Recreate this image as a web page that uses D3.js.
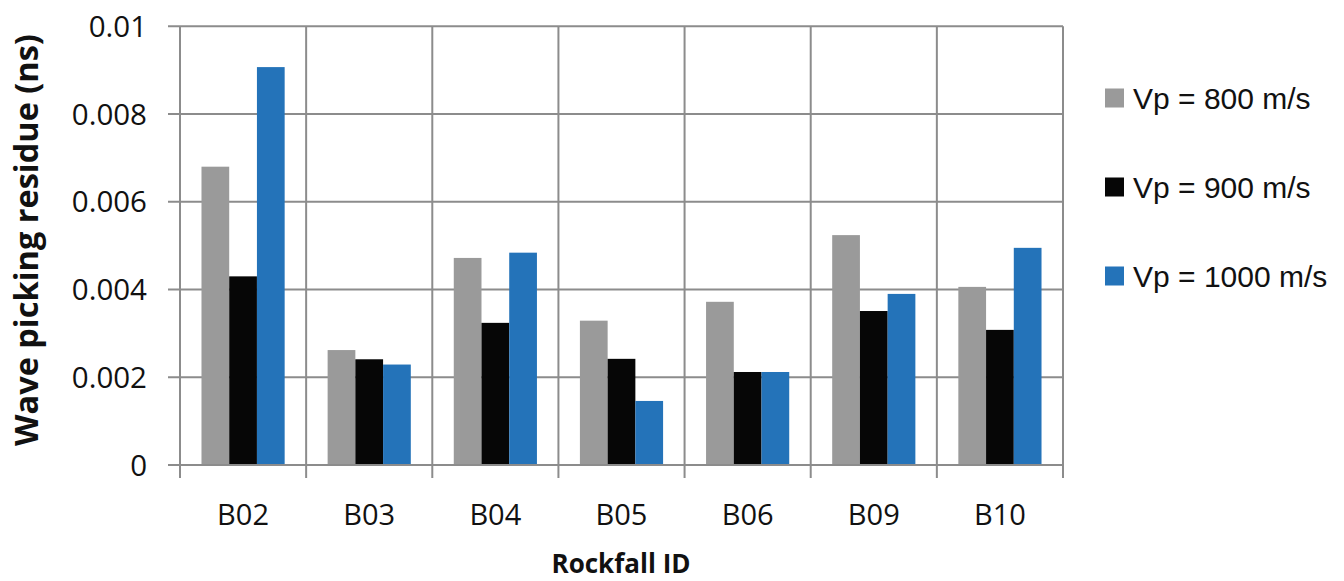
<!DOCTYPE html>
<html><head><meta charset="utf-8">
<script src="https://cdn.jsdelivr.net/npm/d3@7"></script>
<style>body{margin:0;background:#fff}svg{display:block}</style>
</head><body>
<script>
const categories = ["B02","B03","B04","B05","B06","B09","B10"];
const seriesNames = ["Vp = 800 m/s","Vp = 900 m/s","Vp = 1000 m/s"];
const vp800  = [0.0068, 0.00262, 0.00472, 0.00329, 0.00372, 0.00524, 0.00406];
const vp900  = [0.0043, 0.00241, 0.00324, 0.00242, 0.00212, 0.00351, 0.00308];
const vp1000 = [0.00907, 0.00229, 0.00484, 0.00146, 0.00212, 0.0039, 0.00495];
const yTicks = [0, 0.002, 0.004, 0.006, 0.008, 0.01];
const yTickLabels = ["0","0.002","0.004","0.006","0.008","0.01"];
const colors = ["#9a9a9a","#060606","#2473b9"];

const W=1344,H=581;
const svg=d3.select("body").append("svg").attr("width",W).attr("height",H);
const L=180,R=1063,T=26.3,B=465;
const x=d3.scaleBand().domain(categories).range([L,R]);
const y=d3.scaleLinear().domain([0,0.01]).range([B,T]);
const grid="#8c8c8c";
const g=svg.append("g");
g.selectAll("line.h").data(yTicks).join("line")
 .attr("x1",L-12).attr("x2",R).attr("y1",d=>y(d)).attr("y2",d=>y(d))
 .attr("stroke",grid).attr("stroke-width",2);
const bounds=categories.map(c=>x(c)).concat([R]);
g.selectAll("line.v").data(bounds).join("line")
 .attr("x1",d=>d).attr("x2",d=>d).attr("y1",T).attr("y2",B+13)
 .attr("stroke",grid).attr("stroke-width",2);

const series=[vp800,vp900,vp1000];
const inner=d3.scaleBand().domain([0,1,2]).range([0,x.bandwidth()]).paddingOuter(0.775).paddingInner(0);
series.forEach((vals,si)=>{
  g.selectAll(null).data(vals).join("rect")
   .attr("x",(d,i)=>x(categories[i])+inner(si))
   .attr("width",inner.bandwidth())
   .attr("y",d=>y(d)).attr("height",d=>B-y(d))
   .attr("fill",colors[si]);
});
g.append("line").attr("x1",L-12).attr("x2",R).attr("y1",B).attr("y2",B).attr("stroke",grid).attr("stroke-width",2);

svg.selectAll("text.yt").data(yTicks).join("text")
 .attr("x",147).attr("y",d=>y(d)).attr("dy","0.36em")
 .attr("text-anchor","end").attr("font-family","Open Sans").attr("font-size",29.5).attr("fill","#111")
 .text((d,i)=>yTickLabels[i]);
svg.selectAll("text.xt").data(categories).join("text")
 .attr("x",d=>x(d)+x.bandwidth()/2).attr("y",525)
 .attr("text-anchor","middle").attr("font-family","Open Sans").attr("font-size",29).attr("fill","#111")
 .text(d=>d);
const yt=svg.append("text").attr("transform","translate(38,240) rotate(-90)")
 .attr("text-anchor","middle").attr("font-family","Open Sans").attr("font-weight","bold").attr("font-size",28).attr("fill","#111")
 .text("Wave picking residue (ns)");
const len=yt.node().getComputedTextLength();
if(len>0) yt.attr("font-size",28*412/len);
svg.append("text").attr("x",621).attr("y",573)
 .attr("text-anchor","middle").attr("font-family","Open Sans").attr("font-weight","bold").attr("font-size",26).attr("fill","#111")
 .text("Rockfall ID");
const ly=[98,187,276];
seriesNames.forEach((n,i)=>{
  svg.append("rect").attr("x",1105).attr("y",ly[i]-9.5).attr("width",19).attr("height",19).attr("fill",colors[i]);
  svg.append("text").attr("x",1133).attr("y",ly[i]).attr("dy","0.36em")
   .attr("font-family","Liberation Sans").attr("font-size",30).attr("fill","#111").text(n);
});
</script>
</body></html>
